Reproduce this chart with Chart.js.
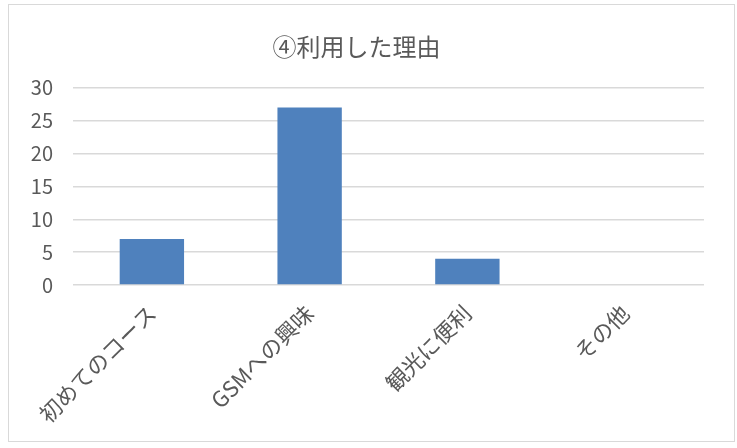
<!DOCTYPE html>
<html>
<head>
<meta charset="utf-8">
<script src="https://cdn.jsdelivr.net/npm/chart.js@4"></script>
<style>
    body { margin: 0; background: #fff; }
    #box {
        position: absolute; left: 8px; top: 4px;
        width: 725px; height: 436px;
        border: 1px solid #d9d9d9;
    }
</style>
</head>
<body>
<div id="box"><canvas id="reasonChart" width="725" height="436"></canvas></div>
<script>
// 利用した理由 の集計
const categories = ['初めてのコース', 'GSMへの興味', '観光に便利', 'その他'];
const counts = [7, 27, 4, 0];
const yTicks = [0, 5, 10, 15, 20, 25, 30];

const textColor = '#595959';
const fontFamily = '"Noto Sans CJK JP", "Noto Sans", sans-serif';

const ctx = document.getElementById('reasonChart').getContext('2d');
new Chart(ctx, {
    type: 'bar',
    data: {
        labels: categories,
        datasets: [{
            label: '④利用した理由',
            data: counts,
            backgroundColor: '#4f81bd',
            categoryPercentage: 0.8,
            barPercentage: 0.51
        }]
    },
    options: {
        responsive: false,
        animation: false,
        layout: { padding: { left: 0, right: 30, top: 0, bottom: 0 } },
        plugins: {
            legend: { display: false },
            tooltip: { enabled: false },
            title: {
                display: true,
                text: '④利用した理由',
                color: textColor,
                font: { family: fontFamily, size: 24, weight: 'normal' },
                padding: { top: 27, bottom: 27 }
            }
        },
        scales: {
            x: {
                afterFit: scale => { scale.height = 156; },
                grid: { display: false },
                border: { display: false },
                ticks: {
                    color: textColor,
                    font: { family: fontFamily, size: 22 },
                    minRotation: 45,
                    maxRotation: 45,
                    padding: 7
                }
            },
            y: {
                min: 0,
                max: yTicks[yTicks.length - 1],
                afterFit: scale => { scale.width = 64; },
                afterBuildTicks: scale => { scale.ticks = yTicks.map(v => ({ value: v })); },
                grid: { color: '#d9d9d9', lineWidth: 1.5, drawTicks: false },
                border: { display: false },
                ticks: {
                    color: textColor,
                    font: { family: fontFamily, size: 20 },
                    padding: 20
                }
            }
        }
    }
});
</script>
</body>
</html>
